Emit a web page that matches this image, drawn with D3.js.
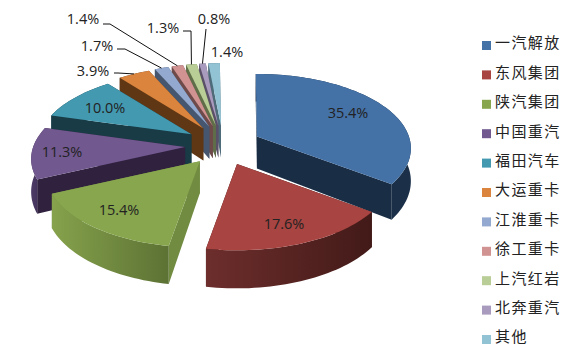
<!DOCTYPE html>
<html>
<head>
<meta charset="utf-8">
<script src="https://cdn.jsdelivr.net/npm/d3@7"></script>
<style>
html, body { margin: 0; padding: 0; background: #fff; }
svg { display: block; }
</style>
</head>
<body>
<div class="pie-chart"></div>
<script>
var categories = ["一汽解放", "东风集团", "陕汽集团", "中国重汽", "福田汽车", "大运重卡", "江淮重卡", "徐工重卡", "上汽红岩", "北奔重汽", "其他"];
var shares = [35.4, 17.6, 15.4, 11.3, 10.0, 3.9, 1.7, 1.4, 1.3, 0.8, 1.4];
var shareLabels = ["35.4%", "17.6%", "15.4%", "11.3%", "10.0%", "3.9%", "1.7%", "1.4%", "1.3%", "0.8%", "1.4%"];
var topColors = ["#4471a6", "#a84441", "#88a64e", "#71588f", "#4299b0", "#db843d", "#93a9cf", "#d19392", "#b9cd96", "#a99bbd", "#92c3d5"];
var wallColors = ["#192d45", "#421a18", "#718b40", "#30213f", "#183b45", "#5f3714", "#46566f", "#6e4a4a", "#5f6e48", "#5a5068", "#4d6b78"];
var rimFrom = ["#192d45", "#6d2e2c", "#86a24c", "#4d3b66", "#183b45", "#5f3714", "#46566f", "#6e4a4a", "#5f6e48", "#5a5068", "#4d6b78"];
var rimTo = ["#1b3048", "#421a18", "#5c7234", "#3a2a4f", "#183b45", "#5f3714", "#46566f", "#6e4a4a", "#5f6e48", "#5a5068", "#4d6b78"];

// back to front, so nearer slices cover the ones behind
var drawOrder = [10, 9, 8, 7, 6, 5, 4, 3, 0, 2, 1];

var width = 576;
var height = 357;

var pie = {cx: 223, cy: 145.5, radius: 152, tilt: 72.4 / 152, persp: 0.16, explodeX: 38, explodeY: 20, depth: 32};

var labelPos = [[348, 113], [284, 224], [119, 210], [62, 152], [105, 108], [93, 71], [97, 46], [83, 19], [163, 28], [214, 19], [227, 52]];

// slice index, start of the leader and its elbow; the end is taken from the slice
var leaders = [
    [5, 114, 73, 118, 73],
    [6, 117, 49, 125, 49],
    [7, 103, 24, 110, 24],
    [8, 183, 31, 191, 31],
    [9, 206, 29, 206, 29]
];

var svg = d3.select(".pie-chart")
    .append("svg")
    .attr("width", width)
    .attr("height", height);

var defs = svg.append("defs");

var startAngle = -0.5 * Math.PI / 180;
var slices = d3.pie().sort(null).startAngle(startAngle).endAngle(startAngle + 2 * Math.PI)(shares);

var radiusScale = d3.scaleLinear().domain([0, 1]).range([0, pie.radius]);

function project(slice, r, angle, drop) {
    var mid = (slice.startAngle + slice.endAngle) / 2;
    var ax = pie.cx + pie.explodeX * Math.sin(mid);
    var ay = pie.cy - pie.explodeY * Math.cos(mid);
    var z = r * Math.cos(angle);
    var s = 1 / (1 + pie.persp * z);
    return [
        ax + radiusScale(r) * Math.sin(angle) * s,
        ay - radiusScale(r) * pie.tilt * Math.cos(angle) * s + drop * s
    ];
}

function arcPoints(slice, drop) {
    var n = Math.max(3, Math.ceil((slice.endAngle - slice.startAngle) / 0.03));
    return d3.range(n + 1).map(function(i) {
        return project(slice, 1, slice.startAngle + (slice.endAngle - slice.startAngle) * i / n, drop);
    });
}

var line = d3.line();

function radialWall(slice, angle) {
    return line([
        project(slice, 0, angle, 0),
        project(slice, 1, angle, 0),
        project(slice, 1, angle, pie.depth),
        project(slice, 0, angle, pie.depth)
    ]) + "Z";
}

drawOrder.forEach(function(i) {
    var slice = slices[i];
    var g = svg.append("g").attr("class", "slice");

    var upper = arcPoints(slice, 0);
    var lower = arcPoints(slice, pie.depth);

    // lower outer end is the wall nearest to us, draw it last
    var walls = [slice.startAngle, slice.endAngle].sort(function(a, b) {
        return project(slice, 1, a, 0)[1] - project(slice, 1, b, 0)[1];
    });
    walls.forEach(function(a) {
        g.append("path")
            .attr("d", radialWall(slice, a))
            .attr("fill", wallColors[i]);
    });

    var xs = d3.extent(upper, function(d) { return d[0]; });
    var grad = defs.append("linearGradient")
        .attr("id", "rim" + i)
        .attr("gradientUnits", "userSpaceOnUse")
        .attr("x1", xs[0]).attr("x2", xs[1])
        .attr("y1", 0).attr("y2", 0);
    grad.append("stop").attr("offset", 0).attr("stop-color", rimFrom[i]);
    grad.append("stop").attr("offset", 1).attr("stop-color", rimTo[i]);

    g.append("path")
        .attr("d", line(upper.concat(lower.slice().reverse())) + "Z")
        .attr("fill", "url(#rim" + i + ")");

    g.append("path")
        .attr("d", line([project(slice, 0, slice.startAngle, 0)].concat(upper)) + "Z")
        .attr("fill", topColors[i]);
});

svg.selectAll(".leader")
    .data(leaders)
    .enter()
    .append("path")
    .attr("class", "leader")
    .attr("fill", "none")
    .attr("stroke", "#111")
    .attr("stroke-width", 1)
    .attr("d", function(d) {
        var slice = slices[d[0]];
        var end = project(slice, 1, (slice.startAngle + slice.endAngle) / 2, 0);
        return line([[d[1], d[2]], [d[3], d[4]], end]);
    });

svg.selectAll(".share-label")
    .data(shareLabels)
    .enter()
    .append("text")
    .attr("class", "share-label")
    .attr("x", function(d, i) { return labelPos[i][0]; })
    .attr("y", function(d, i) { return labelPos[i][1]; })
    .attr("dy", "0.35em")
    .attr("text-anchor", "middle")
    .attr("font-family", "'Open Sans', sans-serif")
    .attr("font-size", 14.5)
    .attr("fill", "#222")
    .text(function(d) { return d; });

var legendY = d3.scalePoint().domain(categories).range([45.5, 339.5]);

var legend = svg.selectAll(".legend-item")
    .data(categories)
    .enter()
    .append("g")
    .attr("class", "legend-item")
    .attr("transform", function(d) { return `translate(482,${legendY(d)})`; });

legend.append("rect")
    .attr("y", -4.5)
    .attr("width", 9)
    .attr("height", 9)
    .attr("fill", function(d, i) { return topColors[i]; });

legend.append("text")
    .attr("x", 13)
    .attr("y", -2.5)
    .attr("dy", "0.36em")
    .attr("font-family", "'Noto Sans CJK SC', sans-serif")
    .attr("font-size", 15)
    .attr("letter-spacing", 1.4)
    .attr("fill", "#222")
    .text(function(d) { return d; });
</script>
</body>
</html>
